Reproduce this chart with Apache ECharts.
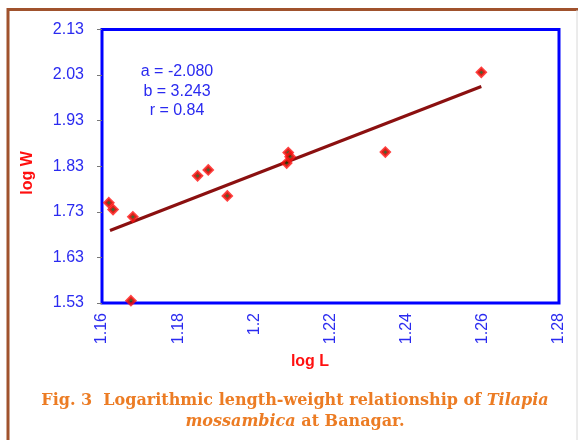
<!DOCTYPE html>
<html>
<head>
<meta charset="utf-8">
<script src="https://cdn.jsdelivr.net/npm/echarts@6/dist/echarts.min.js"></script>
<style>html,body{margin:0;padding:0;background:#fff}#c{width:578px;height:440px}</style>
</head>
<body>
<div id="c"></div>
<script>
// Data
var logL = [1.1618, 1.1629, 1.1681, 1.1676, 1.1851, 1.1879, 1.1929, 1.2089, 1.2094, 1.2085, 1.2344, 1.2596];
var logW = [1.750, 1.735, 1.719, 1.535, 1.809, 1.822, 1.765, 1.860, 1.851, 1.837, 1.861, 2.036];
var trendL = [1.1621, 1.2596];
var trendW = [1.689, 2.005];
var yTicks = [1.53, 1.63, 1.73, 1.83, 1.93, 2.03, 2.13];
var xTicks = [1.16, 1.18, 1.20, 1.22, 1.24, 1.26, 1.28];
var statLines = ['a = -2.080', 'b = 3.243', 'r = 0.84'];

var pts = logL.map(function (x, i) { return [x, logW[i]]; });
var trend = trendL.map(function (x, i) { return [x, trendW[i]]; });

var blue = '#2a2af0';
var orange = '#ec7c24';
var capFont = '"DejaVu Serif", serif';
var capSize = 16;
var capStyle = {fontFamily: capFont, fontWeight: 'bold', fontSize: capSize, fill: orange, align: 'center', verticalAlign: 'middle',
  rich: {
    n: {fontWeight: 'bold', fontFamily: capFont, fontSize: capSize, fill: orange},
    i: {fontStyle: 'italic', fontWeight: 'bold', fontFamily: capFont, fontSize: capSize, fill: orange}
  }};
var chart = echarts.init(document.getElementById('c'), null, {renderer: 'canvas'});
var graphics = [
  {type: 'polyline', shape: {points: [[8, 445], [8, 9.5], [578, 9.5]]}, style: {stroke: '#a0522d', lineWidth: 3, fill: null}, z: 100},
  {type: 'line', shape: {x1: 577, y1: 10, x2: 577, y2: 440}, style: {stroke: '#d8d8d8', lineWidth: 1}, z: 100},
  {type: 'text', x: 310, y: 362, style: {text: 'log L', fontFamily: 'Arial', fontWeight: 'bold', fontSize: 16, fill: '#ff1010', align: 'center', verticalAlign: 'middle'}},
  {type: 'text', x: 28, y: 173, rotation: Math.PI / 2, style: {text: 'log W', fontFamily: 'Arial', fontWeight: 'bold', fontSize: 16, fill: '#ff1010', align: 'center', verticalAlign: 'middle'}},
  {type: 'text', x: 295, y: 401, style: Object.assign({text: '{n|Fig. 3  Logarithmic length-weight relationship of }{i|Tilapia}'}, capStyle)},
  {type: 'text', x: 295, y: 422, style: Object.assign({text: '{i|mossambica}{n| at Banagar.}'}, capStyle)}
];
statLines.forEach(function (t, i) {
  graphics.push({type: 'text', x: 177, y: 72 + i * 19.5, style: {text: t, fontFamily: 'Arial', fontSize: 16, fill: blue, align: 'center', verticalAlign: 'middle'}});
});

chart.setOption({
  backgroundColor: '#fff',
  animation: false,
  grid: {left: 102, top: 29.5, right: 19, bottom: 137, show: true, borderColor: '#0000ff', borderWidth: 3, backgroundColor: 'transparent'},
  xAxis: {
    type: 'value', min: 1.16, max: 1.28,
    axisLine: {show: false},
    axisTick: {show: false},
    splitLine: {show: false},
    axisLabel: {customValues: xTicks, rotate: 90, color: blue, fontFamily: 'Arial', fontSize: 16, margin: 10,
      formatter: function (v) { return String(Math.round(v * 100) / 100); }}
  },
  yAxis: {
    type: 'value', min: 1.53, max: 2.13,
    axisLine: {show: false},
    axisTick: {show: true, customValues: yTicks, length: 5, lineStyle: {color: '#777', width: 1}},
    splitLine: {show: false},
    axisLabel: {customValues: yTicks, color: blue, fontFamily: 'Arial', fontSize: 16, margin: 18,
      formatter: function (v) { return v.toFixed(2); }}
  },
  series: [
    {type: 'line', data: trend, symbol: 'none', lineStyle: {color: '#8b1010', width: 3}, z: 2},
    {type: 'scatter', data: pts, symbol: 'diamond', symbolSize: 8,
      itemStyle: {color: '#1a3a00', borderColor: '#ff1010', borderWidth: 3}, z: 3}
  ],
  graphic: graphics
});
</script>
</body>
</html>
